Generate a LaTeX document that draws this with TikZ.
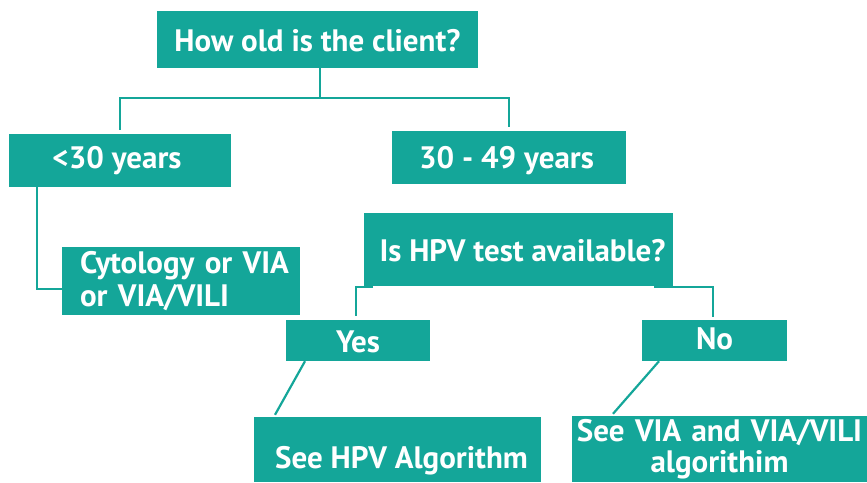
\documentclass[tikz,border=0pt]{standalone}
\usepackage{fontspec}
\setmainfont{PT Sans}
\definecolor{tealbox}{RGB}{20,166,153}
\tikzset{
  box/.style={fill=tealbox, text=white, inner sep=0pt, anchor=center,
    font=\bfseries\fontsize{31}{33}\selectfont},
  single/.style={box, text depth=0pt},
  conn/.style={draw=tealbox, line width=2.2pt}
}
\begin{document}
\begin{tikzpicture}[x=1pt,y=-1pt]
\useasboundingbox (0,0) rectangle (867,482);
% boxes
\node[single, minimum width=321pt, minimum height=57pt, text height=23pt] (top) at (317.5,39.5) {How old is the client?};
\node[single, minimum width=222pt, minimum height=53pt, text height=16pt] (lt30) at (120,160.5) {{<}30 years\hspace*{6pt}};
\node[single, minimum width=234pt, minimum height=53pt, text height=22pt] (r3049) at (509,157.5) {30 - 49 years\hspace*{5pt}};
\node[box, minimum width=238pt, minimum height=68pt, text width=228pt, align=left, inner xsep=5pt] (cyt) at (181,281) {\hspace*{13pt}Cytology or VIA\\\hspace*{13pt}or VIA/VILI};
\node[single, minimum width=309pt, minimum height=73pt, text height=24pt] (hpvq) at (518.5,249.5) {\hspace*{8pt}Is HPV test available?};
\node[single, minimum width=144pt, minimum height=41pt, text height=23pt] (yes) at (358,340.5) {Yes};
\node[single, minimum width=145pt, minimum height=41pt, text height=17pt] (no) at (714.5,340.5) {No};
\node[single, minimum width=287pt, minimum height=65pt, text height=37pt] (seehpv) at (397.5,449.5) {\hspace*{8pt}See HPV Algorithm};
\node[box, minimum width=295pt, minimum height=66pt, text width=295pt, align=center, font=\bfseries\fontsize{31}{31}\selectfont] (seevia) at (719.5,449) {See VIA and VIA/VILI\\algorithim};
% connectors
\coordinate (barL) at (120,98);
\coordinate (barR) at (509,98);
\draw[conn] ([xshift=2.5pt]top.south) -- ([xshift=2.5pt]top.south |- barL);
\draw[conn] ([yshift=4pt]lt30.north) -- (barL) -- (barR) -- ([yshift=4pt]r3049.north);
\draw[conn] ([xshift=-83pt]lt30.south) |- ([yshift=-8pt]cyt.west);
\draw[conn] ([xshift=-145.5pt,yshift=-1pt]hpvq.south) -| ([xshift=-2pt,yshift=4pt]yes.north);
\draw[conn] ([xshift=135.5pt,yshift=-1pt]hpvq.south) -| ([xshift=-1.5pt,yshift=3pt]no.north);
\draw[conn] ([xshift=-53pt]yes.south) -- ([xshift=-122.5pt,yshift=2pt]seehpv.north);
\draw[conn] ([xshift=-55.5pt]no.south) -- ([xshift=-106.5pt,yshift=2pt]seevia.north);
\end{tikzpicture}
\end{document}
